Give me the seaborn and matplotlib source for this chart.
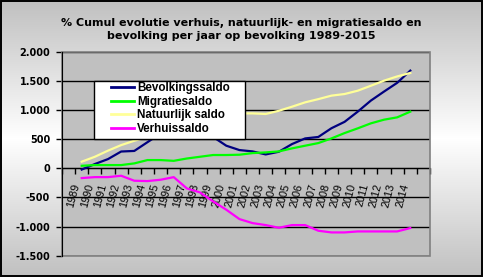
import numpy as np
import pandas as pd
import matplotlib
matplotlib.use("Agg")
import matplotlib.pyplot as plt
from matplotlib.patches import Rectangle
from matplotlib.lines import Line2D
from matplotlib.ticker import FixedLocator, FuncFormatter
import seaborn as sns

# ---- data ----
years = [str(y) for y in range(1989, 2015)]
bevolkingssaldo = [-20, 75, 160, 290, 300, 450, 600, 680, 700, 650, 540, 390, 315,
                   292, 240, 286, 418, 515, 540, 690, 800, 975, 1165, 1320, 1470, 1680]
migratiesaldo = [45, 57, 57, 57, 86, 143, 143, 130, 170, 200, 230, 230, 235,
                 263, 275, 292, 344, 390, 435, 515, 607, 688, 774, 837, 877, 975]
natuurlijk_saldo = [115, 200, 305, 400, 475, 540, 610, 680, 740, 800, 860, 910, 945,
                    945, 935, 990, 1060, 1135, 1190, 1250, 1278, 1335, 1420, 1507, 1580, 1640]
verhuissaldo = [-166, -150, -150, -126, -212, -218, -195, -150, -344, -413, -567, -710, -871,
                -940, -974, -1020, -974, -974, -1071, -1100, -1100, -1083, -1083, -1083, -1083, -1025]
series_names = ["Bevolkingssaldo", "Migratiesaldo", "Natuurlijk saldo", "Verhuissaldo"]
series_colors = ["#000080", "#00FF00", "#FFFF99", "#FF00FF"]
title = "% Cumul evolutie verhuis, natuurlijk- en migratiesaldo en\nbevolking per jaar op bevolking 1989-2015"

W, H, DPI = 483, 277, 100
fig = plt.figure(figsize=(W / DPI, H / DPI), dpi=DPI)

# background gradient
bg = fig.add_axes([0, 0, 1, 1], zorder=-10)
t = np.linspace(0, 1, 277)
g = 1 - np.abs(t - 0.5) * 2  # 0 at edges, 1 middle
lo = 0xC0 / 255
vals = lo + (1 - lo) * g
img = np.repeat(vals[:, None], 10, axis=1)
bg.imshow(np.dstack([img, img, img]), aspect="auto", extent=[0, 1, 0, 1])
bg.set_axis_off()
fig.patches.append(Rectangle((0.8 / W, 0.8 / H), 1 - 1.8 / W, 1 - 1.8 / H, transform=fig.transFigure,
                             fill=False, edgecolor="black", linewidth=1.4))

left, right = 62 / W, 430 / W
top, bottom = 1 - 52 / H, 1 - 255.7 / H
ax = fig.add_axes([left, bottom, right - left, top - bottom])
ax.set_facecolor("#C0C0C0")

x = np.arange(len(years))
df = pd.DataFrame({"x": np.tile(x, 4),
                   "value": bevolkingssaldo + migratiesaldo + natuurlijk_saldo + verhuissaldo,
                   "series": np.repeat(series_names, len(years))})
for name, col in zip(series_names, series_colors):
    sub = df[df["series"] == name]
    sns.lineplot(data=sub, x="x", y="value", color=col, linewidth=1.6, ax=ax, legend=False, zorder=3)

ax.set_xlim(-1.5, len(years) + 0.5)
ax.set_ylim(-1500, 2000)
ax.set_xlabel("")
ax.set_ylabel("")

# grid
ax.set_yticks(np.arange(-1500, 2001, 500))
ax.yaxis.grid(True, color="black", linewidth=1.0)
ax.set_axisbelow(True)
ax.yaxis.set_major_formatter(FuncFormatter(lambda v, p: f"{v:,.0f}".replace(",", ".")))
ax.tick_params(axis="y", direction="out", length=4, width=1, color="black", pad=4.5)
for lab in ax.get_yticklabels():
    lab.set_fontfamily("DejaVu Sans")
    lab.set_fontweight("bold")
    lab.set_fontsize(7)

# x axis at zero
for s in ["top", "right"]:
    ax.spines[s].set_visible(False)
ax.spines["bottom"].set_position(("data", 0))
ax.spines["bottom"].set_color("black")
ax.spines["left"].set_color("black")
ax.spines["left"].set_zorder(6)
ax.xaxis.set_major_locator(FixedLocator(x))
ax.set_xticklabels(years, rotation=75, ha="right", fontfamily="Liberation Sans", fontsize=7.8)
ax.xaxis.set_minor_locator(FixedLocator(np.arange(-1.5, len(years) + 1.0, 1.0)))
ax.tick_params(axis="x", which="major", length=0, pad=10)
ax.tick_params(axis="x", which="minor", direction="out", length=4, width=1, color="black")

# plot area border (gray)
ax.add_patch(Rectangle((0, 0), 1, 1, transform=ax.transAxes, fill=False,
                       edgecolor="#808080", linewidth=1.2, zorder=5, clip_on=False))

# legend box
ax.add_patch(Rectangle((94 / W, 1 - 139 / H), (245 - 94) / W, (139 - 81) / H, transform=fig.transFigure,
                       facecolor="white", edgecolor="black", linewidth=1.0, zorder=7, clip_on=False))
handles = [Line2D([0], [0], color=c, linewidth=2) for c in series_colors]
leg = ax.legend(handles, series_names, loc="upper left", bbox_to_anchor=(111 / W, 1 - 82.5 / H),
                bbox_transform=fig.transFigure, frameon=False, borderpad=0, borderaxespad=0,
                handlelength=2.0, handletextpad=0.25, labelspacing=0.12,
                prop={"family": "Liberation Sans", "weight": "bold", "size": 8.4})
leg.set_zorder(8)

fig.text(0.5, 1 - 29.5 / H, title, ha="center", va="center", fontfamily="DejaVu Sans",
         fontweight="bold", fontsize=8, linespacing=1.45)

fig.savefig("out.png", dpi=DPI)
